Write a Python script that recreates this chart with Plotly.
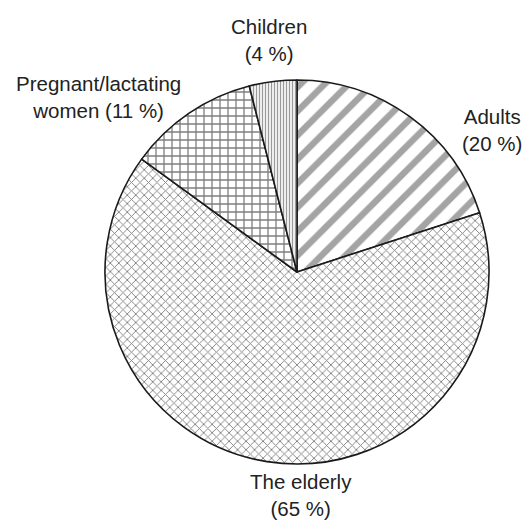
import plotly.graph_objects as go

categories = ["Adults", "The elderly", "Pregnant/lactating women", "Children"]
shares = [20, 65, 11, 4]
label_text = ["Adults", "The elderly", "Pregnant/lactating<br>women", "Children"]

W, H = 523, 521
cx, cy, r = 297, 272, 192

patterns = [
    dict(shape="/", size=17, solidity=0.38, fgcolor="#4a4a4a"),
    dict(shape="x", size=6, solidity=0.28, fgcolor="#000000"),
    dict(shape="+", size=8, solidity=0.3, fgcolor="#000000"),
    dict(shape="|", size=3, solidity=0.45, fgcolor="#333333"),
]

fig = go.Figure(go.Pie(
    labels=categories,
    values=shares,
    sort=False,
    direction="clockwise",
    rotation=0,
    textinfo="none",
    hoverinfo="label+percent",
    showlegend=False,
    marker=dict(
        colors=["white"] * 4,
        line=dict(color="#1a1a1a", width=1.6),
        pattern=dict(
            shape=[p["shape"] for p in patterns],
            size=[p["size"] for p in patterns],
            solidity=[p["solidity"] for p in patterns],
            fgcolor=[p["fgcolor"] for p in patterns],
            bgcolor=["white"] * 4,
            fillmode="overlay",
        ),
    ),
    domain=dict(x=[(cx - r) / W, (cx + r) / W], y=[(H - cy - r) / H, (H - cy + r) / H]),
))

# label anchor positions (pixels from top-left)
label_pos = {
    "Adults": (492, 130),
    "The elderly": (301, 495),
    "Pregnant/lactating women": (98, 97),
    "Children": (269, 40),
}

for cat, txt, val in zip(categories, label_text, shares):
    px, py = label_pos[cat]
    if "<br>" in txt:
        text = f"{txt} ({val} %)"
    else:
        text = f"{txt}<br>({val} %)"
    fig.add_annotation(
        x=px / W, y=1 - py / H, xref="paper", yref="paper",
        text=text, showarrow=False, xanchor="center", yanchor="middle",
        align="center",
        font=dict(family="Liberation Sans, Arial, sans-serif", size=20.5, color="#222222"),
    )

fig.update_layout(
    width=W, height=H,
    margin=dict(l=0, r=0, t=0, b=0),
    paper_bgcolor="white",
    plot_bgcolor="white",
)

fig.write_html(
    "out.html",
    config={"displayModeBar": False},
    post_script="document.body.style.margin='0';document.body.style.padding='0';",
)
